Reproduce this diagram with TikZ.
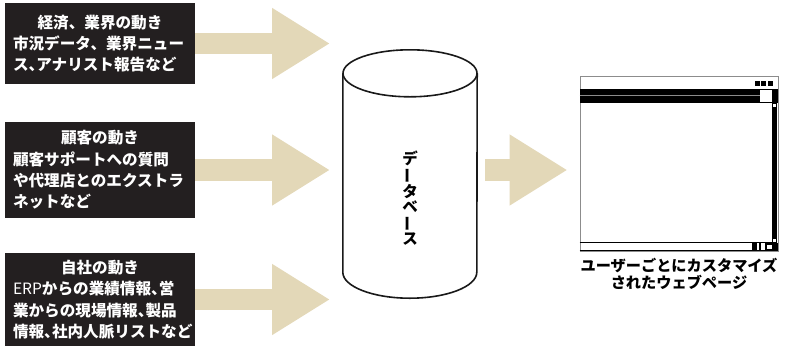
\documentclass[tikz,border=0pt]{standalone}
\usepackage{graphicx}
\usepackage{fontspec}
\newfontfamily\jpfont{Noto Sans CJK JP}
\usetikzlibrary{positioning, arrows.meta, shapes.geometric, calc}

\definecolor{boxblack}{RGB}{35,31,32}
\definecolor{flowbeige}{RGB}{227,216,184}
\newcommand{\hcomma}{\makebox[.5em][l]{、}}
\newcommand{\tatebo}{\rotatebox[origin=c]{90}{ー}}

\begin{document}
\begin{tikzpicture}[
    x=1pt, y=-1pt,
    source/.style={rectangle, fill=boxblack, text=white, minimum width=190pt, inner sep=0pt,
                   text width=174pt, align=left, font=\jpfont\bfseries\fontsize{15.6}{21.3}\selectfont},
    flow/.style={draw=flowbeige, line width=21.5pt, -{Triangle[length=58pt, width=67pt]}},
    db/.style={rectangle, minimum width=134pt, minimum height=248pt, inner sep=0pt},
    dbline/.style={draw=black!90, line width=1.6pt},
    dbtext/.style={align=center, inner sep=0pt, font=\jpfont\bfseries\fontsize{15.5}{15.2}\selectfont},
    window/.style={rectangle, draw=black!45, line width=1pt, minimum width=198pt, minimum height=175pt},
    caption/.style={align=center, font=\jpfont\bfseries\fontsize{15.2}{17}\selectfont}
]
\useasboundingbox (0,0) rectangle (786,346);

% --- Quellen ---
\node[source, minimum height=81pt] (econ) at (100,43.5)
    {\makebox[\linewidth]{経済、業界の動き}\\
     市況データ、業界ニュー\\
     ス\hcomma アナリスト報告など};
\node[source, minimum height=96pt] (cust) at (100,170)
    {\makebox[\linewidth]{顧客の動き}\\
     顧客サポートへの質問\\
     や代理店とのエクストラ\\
     ネットなど};
\node[source, minimum height=93pt] (own) at (100,299.5)
    {\makebox[\linewidth]{自社の動き}\\
     {\mdseries ERP}からの業績情報\hcomma 営\\
     業からの現場情報\hcomma 製品\\
     情報\hcomma 社内人脈リストなど};

% --- Datenbank und Webseite ---
\node[db] (dbase) at (410,174) {};
\draw[dbline] ($(dbase.north)+(0,23.5)$) ellipse [x radius=67pt, y radius=23.5pt];
\draw[dbline] ($(dbase.north west)+(0,23.5)$) -- ($(dbase.south west)+(0,-26)$)
    arc[start angle=180, end angle=360, x radius=67pt, y radius=26pt]
    -- ($(dbase.north east)+(0,23.5)$);
\node[dbtext] (dblabel) at ($(dbase.center)+(0,24)$) {デ\\\tatebo\\タ\\ベ\\\tatebo\\ス};
\node[window] (web) at (679,163.5) {};
\node[caption, below=3pt of web] (webcap) {ユーザーごとにカスタマイズ\\されたウェブページ};

% --- Pfeile ---
\coordinate (tipline) at (330,0);
\draw[flow] (econ.east) -- (econ.east -| tipline);
\draw[flow] (cust.east) -- (cust.east -| tipline);
\draw[flow] (own.east) -- (own.east -| tipline);
\draw[flow, shorten <=8pt, shorten >=12pt] (dbase.east |- cust.east) -- (web.west |- cust.east);

% --- Fensterrahmen ---
\coordinate (w) at (web.north west);
\foreach \i in {0,6.5,13}
    \fill ($(w)+(175+\i,5)$) rectangle ++(5,5);
\fill ($(w)+(0,13)$) rectangle ($(w)+(198,27)$);
\draw[black!45, line width=0.8pt] ($(w)+(0,19.5)$) -- ($(w)+(180,19.5)$);
\fill[white] ($(w)+(180,14)$) rectangle ($(w)+(192,26)$);
\fill ($(w)+(192,27)$) rectangle ($(w)+(197.5,168)$);
\fill[white] ($(w)+(193.5,28.5)$) rectangle ++(3,3);
\fill[white] ($(w)+(193.5,163)$) rectangle ++(3,3);
\draw[line width=1.2pt] ($(w)+(0,167)$) -- ($(w)+(192,167)$);
\draw[line width=0.8pt] ($(w)+(0,174.6)$) -- ($(w)+(198,174.6)$);
\fill ($(w)+(172,167)$) rectangle ($(w)+(177,175)$);
\fill ($(w)+(179,167)$) rectangle ($(w)+(181,175)$);
\fill ($(w)+(185,167)$) rectangle ($(w)+(198,175)$);
\fill[white] ($(w)+(187,169)$) rectangle ($(w)+(192,173)$);

\end{tikzpicture}
\end{document}
